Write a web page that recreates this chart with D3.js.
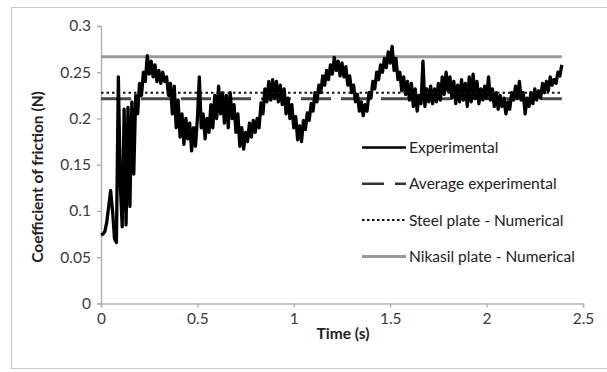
<!DOCTYPE html>
<html>
<head>
<meta charset="utf-8">
<script src="https://cdn.jsdelivr.net/npm/d3@7"></script>
<style>
	body { margin: 0; background: #fff; }
	svg text { font-family: Lato, "Open Sans", sans-serif; }
</style>
</head>
<body>
<svg id="chart" width="607" height="372"></svg>
<script>

// sample step of the experimental trace (s)
var timeStep = 0.01;

// experimental coefficient of friction, one value per timeStep from t = 0
var experimental = [
	0.074, 0.075, 0.078, 0.088, 0.105, 0.122, 0.100, 0.070, 0.066, 0.245,
	0.130, 0.083, 0.210, 0.085, 0.212, 0.105, 0.218, 0.140, 0.225, 0.205,
	0.238, 0.225, 0.250, 0.240, 0.268, 0.248, 0.262, 0.245, 0.258, 0.240,
	0.252, 0.238, 0.250, 0.240, 0.245, 0.225, 0.238, 0.205, 0.235, 0.190,
	0.220, 0.180, 0.205, 0.172, 0.200, 0.178, 0.195, 0.165, 0.190, 0.170,
	0.200, 0.245, 0.190, 0.205, 0.178, 0.200, 0.185, 0.215, 0.190, 0.225,
	0.200, 0.235, 0.205, 0.228, 0.195, 0.225, 0.190, 0.228, 0.200, 0.215,
	0.185, 0.205, 0.170, 0.190, 0.167, 0.185, 0.175, 0.195, 0.180, 0.198,
	0.185, 0.200, 0.190, 0.217, 0.205, 0.232, 0.218, 0.240, 0.220, 0.242,
	0.222, 0.240, 0.218, 0.236, 0.215, 0.232, 0.205, 0.222, 0.200, 0.215,
	0.190, 0.202, 0.177, 0.192, 0.175, 0.198, 0.188, 0.206, 0.198, 0.216,
	0.208, 0.228, 0.218, 0.236, 0.228, 0.246, 0.236, 0.252, 0.242, 0.258,
	0.248, 0.266, 0.252, 0.262, 0.246, 0.260, 0.245, 0.256, 0.236, 0.246,
	0.228, 0.236, 0.218, 0.226, 0.208, 0.218, 0.203, 0.215, 0.208, 0.228,
	0.222, 0.240, 0.232, 0.250, 0.242, 0.258, 0.250, 0.265, 0.255, 0.272,
	0.260, 0.278, 0.252, 0.265, 0.242, 0.250, 0.230, 0.245, 0.226, 0.240,
	0.220, 0.238, 0.213, 0.232, 0.208, 0.225, 0.216, 0.262, 0.213, 0.232,
	0.218, 0.235, 0.216, 0.232, 0.218, 0.238, 0.220, 0.245, 0.226, 0.250,
	0.230, 0.245, 0.222, 0.240, 0.216, 0.236, 0.218, 0.242, 0.220, 0.238,
	0.213, 0.245, 0.218, 0.248, 0.222, 0.240, 0.216, 0.232, 0.220, 0.235,
	0.222, 0.245, 0.220, 0.232, 0.213, 0.228, 0.210, 0.225, 0.213, 0.222,
	0.205, 0.218, 0.210, 0.228, 0.220, 0.235, 0.222, 0.240, 0.220, 0.228,
	0.205, 0.222, 0.213, 0.228, 0.216, 0.232, 0.220, 0.230, 0.222, 0.238,
	0.228, 0.240, 0.230, 0.245, 0.236, 0.242, 0.238, 0.250, 0.246, 0.258
];

// constant reference levels and the time span they cover
var avgExperimental = 0.2213;
var steelNumerical = 0.2278;
var nikasilNumerical = 0.2667;
var refSpan = [ 0, 2.39 ];

var xTicks = [ 0, 0.5, 1, 1.5, 2, 2.5 ];
var yTicks = [ 0, 0.05, 0.1, 0.15, 0.2, 0.25, 0.3 ];

var legendNames = [ 'Experimental', 'Average experimental', 'Steel plate - Numerical', 'Nikasil plate - Numerical' ];

var svg = d3.select( '#chart' );

// outer frame
svg.append( 'rect' )
	.attr( 'x', 11.5 ).attr( 'y', 7.5 )
	.attr( 'width', 605 ).attr( 'height', 361 )
	.attr( 'fill', 'none' )
	.attr( 'stroke', '#c8c8c8' );

var x = d3.scaleLinear().domain( [ 0, 2.5 ] ).range( [ 101, 583 ] );
var y = d3.scaleLinear().domain( [ 0, 0.3 ] ).range( [ 303.5, 26 ] );

// axes
var xAxis = svg.append( 'g' )
	.attr( 'transform', 'translate(0,' + y( 0 ) + ')' )
	.call( d3.axisBottom( x ).tickValues( xTicks ).tickSize( 4 ).tickPadding( 5 ).tickFormat( d3.format( '' ) ) );

var yAxis = svg.append( 'g' )
	.attr( 'transform', 'translate(' + x( 0 ) + ',0)' )
	.call( d3.axisLeft( y ).tickValues( yTicks ).tickSize( 4 ).tickPadding( 6 ).tickFormat( d3.format( '' ) ) );

[ xAxis, yAxis ].forEach( function( _g ) {
	_g.select( '.domain' ).attr( 'stroke', '#b4b4b4' ).attr( 'stroke-width', 1.5 );
	_g.selectAll( '.tick line' ).attr( 'stroke', '#b4b4b4' ).attr( 'stroke-width', 1.5 );
	_g.selectAll( '.tick text' )
		.attr( 'fill', '#3a3a3a' )
		.style( 'font-size', '15.5px' );
} );

// axis titles
svg.append( 'text' )
	.attr( 'x', 343 ).attr( 'y', 339 )
	.attr( 'text-anchor', 'middle' )
	.style( 'font-size', '15.5px' ).style( 'font-weight', 'bold' )
	.attr( 'fill', '#222' )
	.text( 'Time (s)' );

svg.append( 'text' )
	.attr( 'transform', 'translate(43,177) rotate(-90)' )
	.attr( 'text-anchor', 'middle' )
	.style( 'font-size', '15.5px' ).style( 'font-weight', 'bold' )
	.attr( 'fill', '#222' )
	.text( 'Coefficient of friction (N)' );

// reference levels
function refLine( _value, _stroke, _width, _dash ) {
	svg.append( 'line' )
		.attr( 'x1', x( refSpan[ 0 ] ) ).attr( 'x2', x( refSpan[ 1 ] ) )
		.attr( 'y1', y( _value ) ).attr( 'y2', y( _value ) )
		.attr( 'stroke', _stroke )
		.attr( 'stroke-width', _width )
		.attr( 'stroke-dasharray', _dash );
}

refLine( nikasilNumerical, '#9a9a9a', 3, null );
refLine( avgExperimental, '#474747', 3, '30,10' );

// experimental trace
var line = d3.line()
	.x( function( _d, _i ) { return x( _i * timeStep ); } )
	.y( function( _d ) { return y( _d ); } );

svg.append( 'path' )
	.datum( experimental )
	.attr( 'd', line )
	.attr( 'fill', 'none' )
	.attr( 'stroke', '#000' )
	.attr( 'stroke-width', 3.3 )
	.attr( 'stroke-linejoin', 'round' );

refLine( steelNumerical, '#111', 2, '2.5,3' );

// legend
var legendStyles = [
	{ stroke: '#000', width: 2.5, dash: null },
	{ stroke: '#333', width: 2.5, dash: '22,11' },
	{ stroke: '#111', width: 2, dash: '2.5,2.5' },
	{ stroke: '#9a9a9a', width: 3, dash: null }
];

var legend = svg.selectAll( 'g.legend' )
	.data( legendNames )
	.enter().append( 'g' )
	.attr( 'class', 'legend' )
	.attr( 'transform', function( _d, _i ) {
		return 'translate(362,' + ( 147.5 + _i * 36.3 ) + ')';
	} );

legend.append( 'line' )
	.attr( 'x1', 0 ).attr( 'x2', 44 )
	.attr( 'stroke', function( _d, _i ) { return legendStyles[ _i ].stroke; } )
	.attr( 'stroke-width', function( _d, _i ) { return legendStyles[ _i ].width; } )
	.attr( 'stroke-dasharray', function( _d, _i ) { return legendStyles[ _i ].dash; } );

legend.append( 'text' )
	.attr( 'x', 47 ).attr( 'dy', '0.35em' )
	.style( 'font-size', '15.5px' )
	.attr( 'fill', '#222' )
	.text( function( _d ) { return _d; } );

</script>
</body>
</html>
